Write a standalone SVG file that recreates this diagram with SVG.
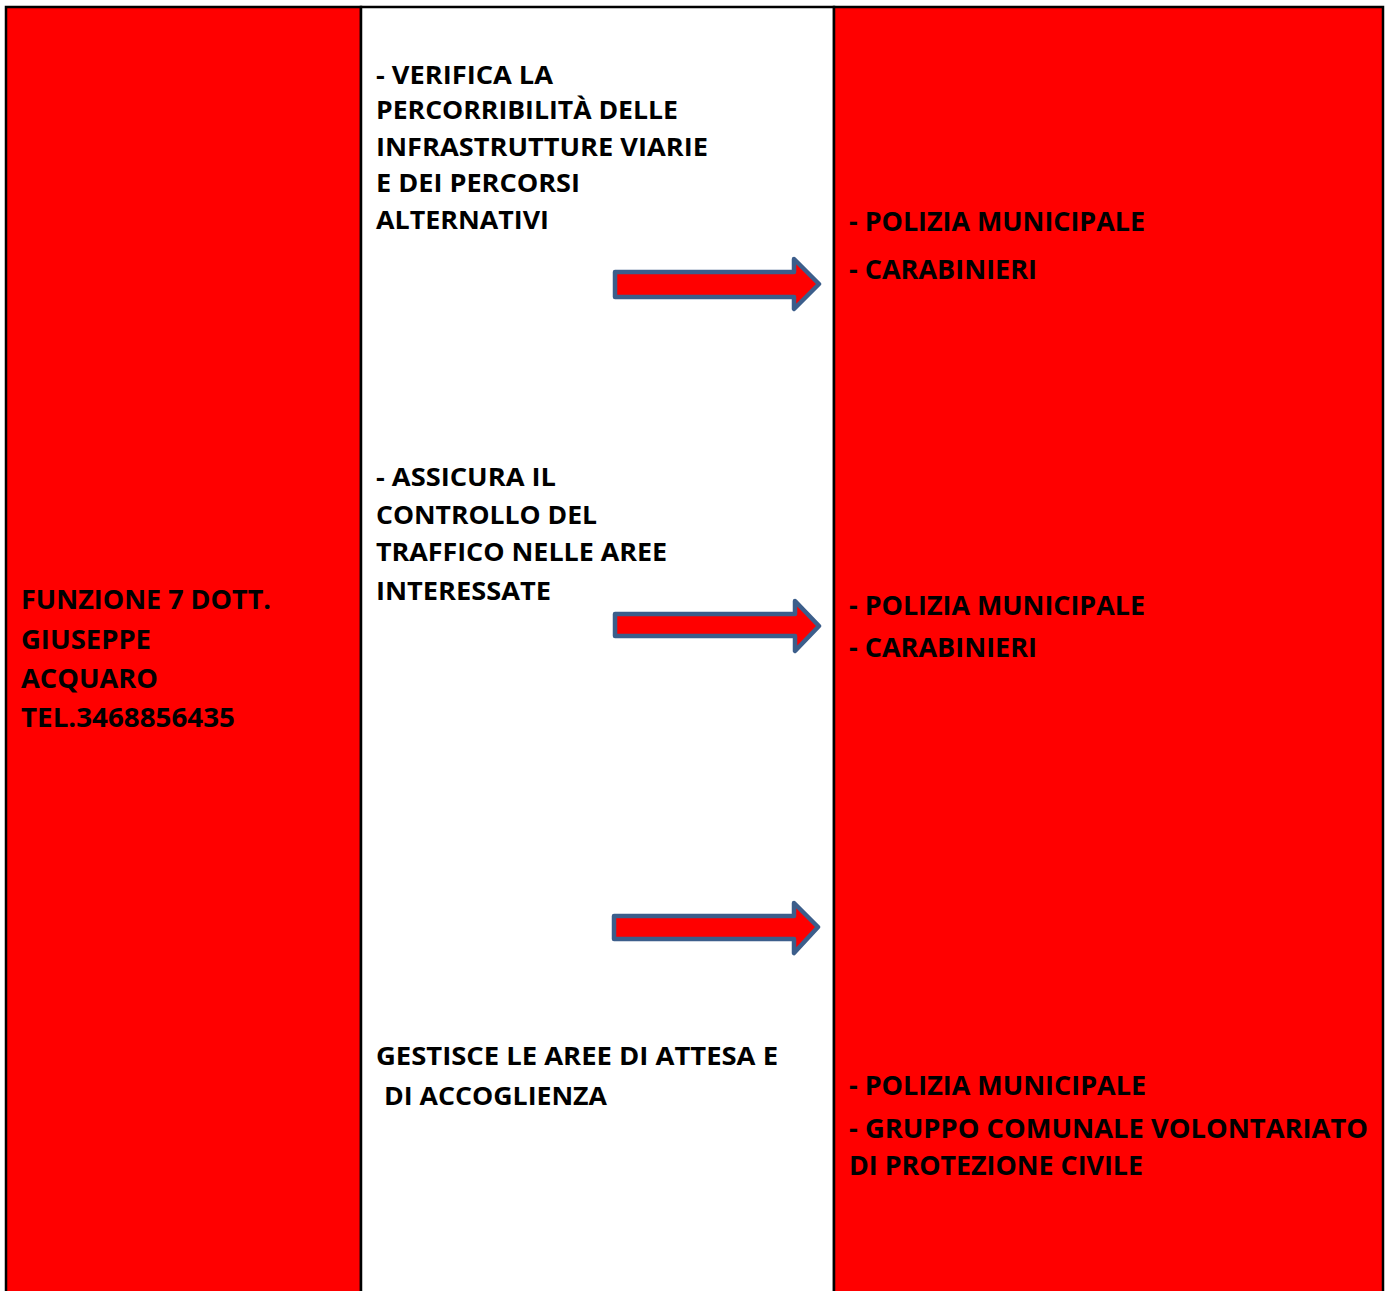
<svg xmlns="http://www.w3.org/2000/svg" width="1391" height="1291" viewBox="0 0 1391 1291">
<style>
.t{font-family:"Open Sans","Liberation Sans",sans-serif;font-weight:bold;fill:#000;}
.m{font-size:25.5px;}
.l{font-size:26.5px;}
.r{font-size:27.5px;}
.col{stroke:#000;stroke-width:2.5;}
.arr{fill:#FF0000;stroke:#3C5E8B;stroke-width:4.5;stroke-linejoin:round;}
</style>
<rect x="0" y="0" width="1391" height="1291" fill="#fff"/>
<g id="left">
<rect class="col" x="6" y="7" width="355" height="1290" fill="#FF0000"/>
<text class="t l" x="21" y="609" textLength="250" lengthAdjust="spacingAndGlyphs">FUNZIONE 7 DOTT.</text>
<text class="t l" x="21" y="649" textLength="130" lengthAdjust="spacingAndGlyphs">GIUSEPPE</text>
<text class="t l" x="21" y="688" textLength="137" lengthAdjust="spacingAndGlyphs">ACQUARO</text>
<text class="t l" x="21" y="727" textLength="214" lengthAdjust="spacingAndGlyphs">TEL.3468856435</text>
</g>
<g id="middle">
<rect class="col" x="361" y="7" width="473" height="1290" fill="#fff"/>
<text class="t m" x="376" y="84" textLength="177" lengthAdjust="spacingAndGlyphs">- VERIFICA LA</text>
<text class="t m" x="376" y="119" textLength="302" lengthAdjust="spacingAndGlyphs">PERCORRIBILITÀ DELLE</text>
<text class="t m" x="376" y="156" textLength="332" lengthAdjust="spacingAndGlyphs">INFRASTRUTTURE VIARIE</text>
<text class="t m" x="376" y="192" textLength="204" lengthAdjust="spacingAndGlyphs">E DEI PERCORSI</text>
<text class="t m" x="376" y="229" textLength="173" lengthAdjust="spacingAndGlyphs">ALTERNATIVI</text>
<text class="t m" x="376" y="486" textLength="180" lengthAdjust="spacingAndGlyphs">- ASSICURA IL</text>
<text class="t m" x="376" y="524" textLength="221" lengthAdjust="spacingAndGlyphs">CONTROLLO DEL</text>
<text class="t m" x="376" y="561" textLength="291" lengthAdjust="spacingAndGlyphs">TRAFFICO NELLE AREE</text>
<text class="t m" x="376" y="600" textLength="175" lengthAdjust="spacingAndGlyphs">INTERESSATE</text>
<text class="t m" x="376" y="1065" textLength="402" lengthAdjust="spacingAndGlyphs">GESTISCE LE AREE DI ATTESA E</text>
<text class="t m" x="384" y="1105" textLength="223" lengthAdjust="spacingAndGlyphs">DI ACCOGLIENZA</text>
</g>
<g id="right">
<rect class="col" x="834" y="7" width="549" height="1290" fill="#FF0000"/>
<text class="t r" x="849" y="231" textLength="296" lengthAdjust="spacingAndGlyphs">- POLIZIA MUNICIPALE</text>
<text class="t r" x="849" y="279" textLength="188" lengthAdjust="spacingAndGlyphs">- CARABINIERI</text>
<text class="t r" x="849" y="615" textLength="296" lengthAdjust="spacingAndGlyphs">- POLIZIA MUNICIPALE</text>
<text class="t r" x="849" y="657" textLength="188" lengthAdjust="spacingAndGlyphs">- CARABINIERI</text>
<text class="t r" x="849" y="1095" textLength="297" lengthAdjust="spacingAndGlyphs">- POLIZIA MUNICIPALE</text>
<text class="t r" x="849" y="1138" textLength="519" lengthAdjust="spacingAndGlyphs">- GRUPPO COMUNALE VOLONTARIATO</text>
<text class="t r" x="849" y="1175" textLength="294" lengthAdjust="spacingAndGlyphs">DI PROTEZIONE CIVILE</text>
</g>
<g id="connectors">
<path class="arr" d="M615,272 L794,272 L794,259 L819,284 L794,309 L794,297 L615,297 Z"/>
<path class="arr" d="M615,614 L795,614 L795,601 L819,626 L795,651 L795,636 L615,636 Z"/>
<path class="arr" d="M614,916 L794,916 L794,903 L818,927 L794,953 L794,939 L614,939 Z"/>
</g>
</svg>
